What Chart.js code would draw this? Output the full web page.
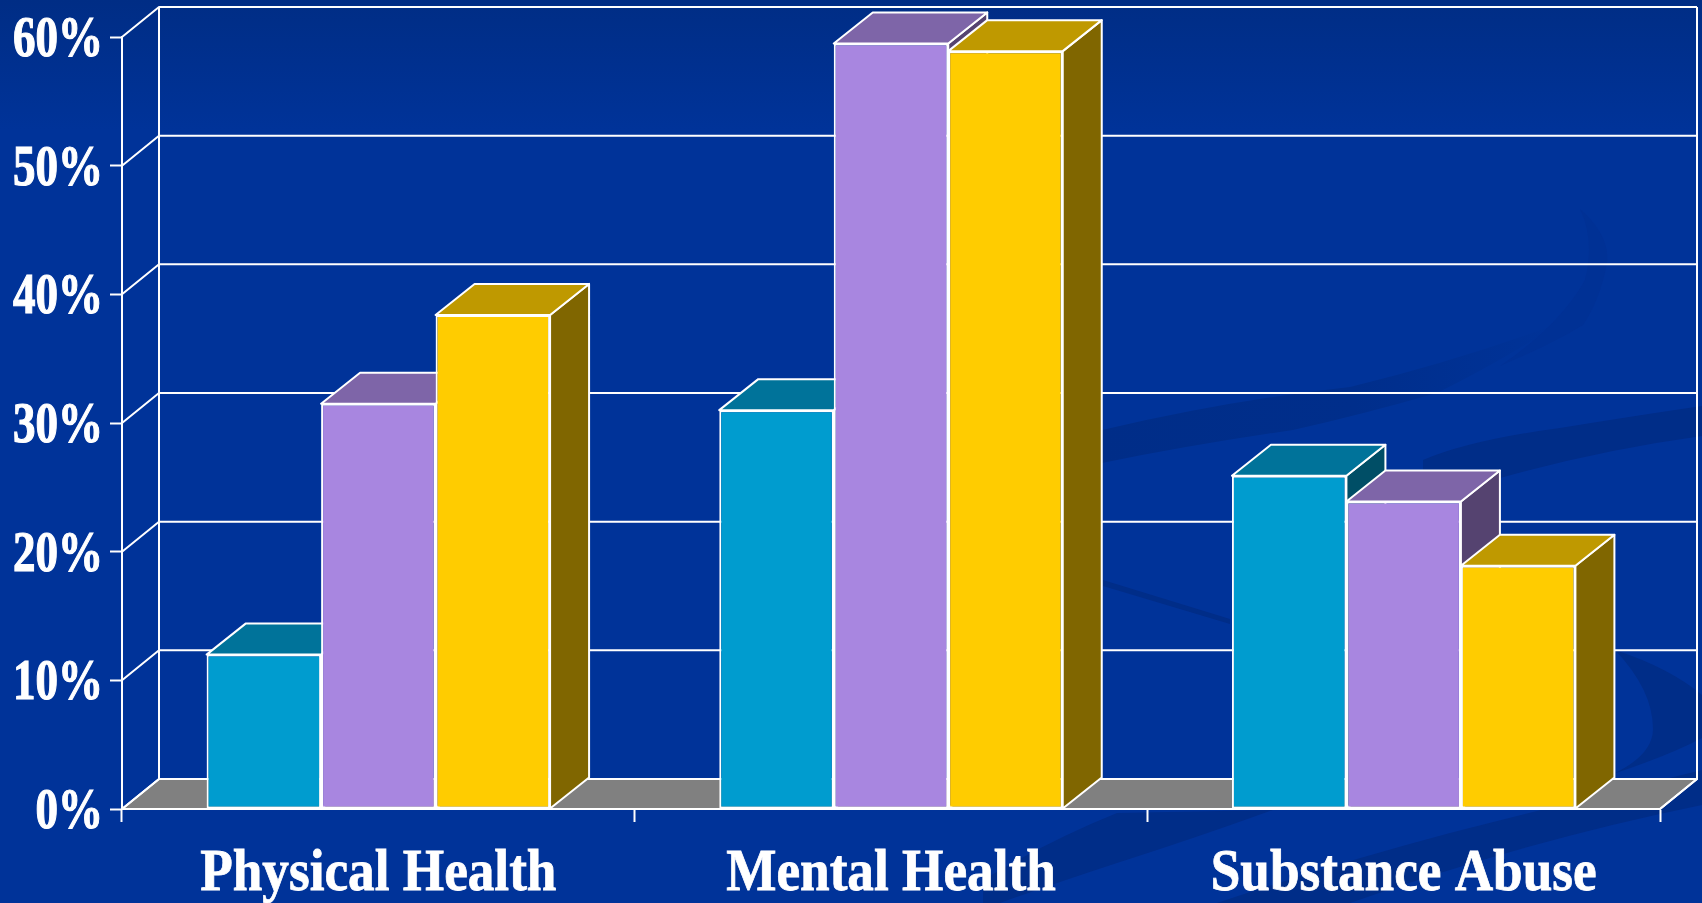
<!DOCTYPE html>
<html lang="en">
<head>
<meta charset="UTF-8">
<title>Physical Health, Mental Health, Substance Abuse</title>
<script src="https://cdn.jsdelivr.net/npm/chart.js@4"></script>
<style>
    html, body { margin: 0; padding: 0; width: 1702px; height: 903px; overflow: hidden; background: #003399; }
    #bg { position: absolute; left: 0; top: 0; }
    #chart { position: absolute; left: 0; top: 0; }
</style>
</head>
<body>
<!-- slide background swooshes -->
<svg id="bg" width="1702" height="903" viewBox="0 0 1702 903">
    <defs>
        <linearGradient id="topShade" x1="0" y1="0" x2="0" y2="1">
            <stop offset="0" stop-color="#002d85"/>
            <stop offset="1" stop-color="#003399"/>
        </linearGradient>
        <linearGradient id="fadeRight" gradientUnits="userSpaceOnUse" x1="1100" y1="0" x2="1560" y2="0">
            <stop offset="0" stop-color="#002d88"/>
            <stop offset="0.55" stop-color="#002e8b"/>
            <stop offset="1" stop-color="#003399"/>
        </linearGradient>
    </defs>
    <rect x="0" y="0" width="1702" height="130" fill="url(#topShade)"/>
    <path d="M1102 430 Q1230 400 1350 387 Q1460 360 1560 323 Q1500 362 1437 393 Q1360 415 1293 430 Q1190 445 1102 463 Z" fill="url(#fadeRight)"/>
    <g fill="#002d88">
        <path d="M1423 460 Q1470 440 1560 428 Q1640 415 1702 406 L1702 436 Q1600 450 1500 478 Q1460 485 1423 495 Z"/>
        <path d="M1615 650 Q1670 668 1702 695 L1702 738 Q1670 755 1613 774 Q1653 755 1653 729 Q1653 690 1615 650 Z"/>
        <path d="M983 880 Q1050 840 1117 813 L1273 810 Q1190 840 1117 863 Q1050 885 1000 903 L983 903 Z"/>
        <path d="M1217 903 Q1330 865 1450 833 Q1580 800 1702 770 L1702 805 Q1530 840 1350 903 Z"/>
        <path d="M1103 580 L1230 619 L1230 624 L1103 586 Z"/>
    </g>
    <path d="M1580 209 Q1610 235 1607 263 Q1600 300 1583 325 Q1550 345 1500 366 Q1560 325 1585 280 Q1595 240 1580 209 Z" fill="#003195"/>
</svg>
<canvas id="chart" width="1702" height="903"></canvas>
<script>
    const categories = ['Physical Health', 'Mental Health', 'Substance Abuse'];
    const blueValues = [12, 31, 25.9];
    const purpleValues = [31.5, 59.5, 23.9];
    const yellowValues = [38.4, 58.9, 18.9];
    const yTickLabels = ['0%', '10%', '20%', '30%', '40%', '50%', '60%'];

    // depth of the fake 3D walls and of the boxes
    const depthX = 37;
    const depthY = -30;
    const boxDepthX = 39;
    const boxDepthY = -31;

    const faces = [
        { front: '#009ccf', top: '#00739a', side: '#004e66' },
        { front: '#a886e0', top: '#7e65a8', side: '#554370' },
        { front: '#ffcc00', top: '#bf9900', side: '#806600' }
    ];

    function polygon(ctx, pts, fill) {
        ctx.beginPath();
        pts.forEach((p, i) => i ? ctx.lineTo(p[0], p[1]) : ctx.moveTo(p[0], p[1]));
        ctx.closePath();
        ctx.fillStyle = fill;
        ctx.fill();
        ctx.strokeStyle = '#ffffff';
        ctx.lineWidth = 2;
        ctx.lineJoin = 'round';
        ctx.stroke();
    }

    // back wall, side wall and grey floor
    const wallsPlugin = {
        id: 'walls',
        beforeDatasetsDraw(chart) {
            const ctx = chart.ctx;
            const { left, right, bottom } = chart.chartArea;
            const y = chart.scales.y;
            ctx.save();
            polygon(ctx, [[left, bottom], [left + depthX, bottom + depthY], [right + depthX, bottom + depthY], [right, bottom]], '#808080');
            ctx.strokeStyle = '#ffffff';
            ctx.lineWidth = 2;
            y.ticks.forEach(t => {
                const py = y.getPixelForValue(t.value);
                ctx.beginPath();
                ctx.moveTo(left, py);
                ctx.lineTo(left + depthX, py + depthY);
                ctx.lineTo(right + depthX, py + depthY);
                ctx.stroke();
            });
            const topY = y.getPixelForValue(y.max) + depthY;
            ctx.beginPath();
            ctx.moveTo(left + depthX, topY);
            ctx.lineTo(left + depthX, bottom + depthY);
            ctx.moveTo(right + depthX, topY);
            ctx.lineTo(right + depthX, bottom + depthY);
            ctx.lineTo(right, bottom);
            ctx.stroke();
            ctx.restore();
        }
    };

    // chart.js paints the first series last, the boxes need it the other way round,
    // so skip its pass and paint series left to right with their top and side faces
    const boxPlugin = {
        id: 'box',
        beforeDatasetDraw() {
            return false;
        },
        afterDatasetsDraw(chart) {
            const ctx = chart.ctx;
            chart.getSortedVisibleDatasetMetas().forEach(meta => {
                const colors = faces[meta.index];
                meta.data.forEach(bar => {
                    const { x, y, base, width } = bar.getProps(['x', 'y', 'base', 'width'], true);
                    const l = x - width / 2;
                    const r = x + width / 2;
                    ctx.save();
                    polygon(ctx, [[r, y], [r + boxDepthX, y + boxDepthY], [r + boxDepthX, base + boxDepthY], [r, base]], colors.side);
                    polygon(ctx, [[l, y], [l + boxDepthX, y + boxDepthY], [r + boxDepthX, y + boxDepthY], [r, y]], colors.top);
                    ctx.restore();
                    bar.draw(ctx);
                });
            });
        }
    };

    // narrowed serif axis labels, placed from the scales' own ticks
    const labelsPlugin = {
        id: 'labels',
        afterDraw(chart) {
            const ctx = chart.ctx;
            const xs = chart.scales.x;
            const ys = chart.scales.y;
            ctx.save();
            ctx.fillStyle = '#ffffff';
            ctx.strokeStyle = '#ffffff';
            ctx.textBaseline = 'alphabetic';

            ctx.font = 'bold 57px "Liberation Serif"';
            ctx.textAlign = 'right';
            ctx.lineWidth = 1.2;
            ys.ticks.forEach((t, i) => {
                ctx.save();
                ctx.translate(103, ys.getPixelForTick(i) + 19);
                ctx.scale(0.79, 1);
                ctx.fillText(t.label, 0, 0);
                ctx.strokeText(t.label, 0, 0);
                ctx.restore();
            });

            ctx.font = 'bold 60px "Liberation Serif"';
            ctx.textAlign = 'center';
            ctx.lineWidth = 0.8;
            xs.ticks.forEach((t, i) => {
                ctx.save();
                ctx.translate(xs.getPixelForTick(i), 890);
                ctx.scale(0.887, 1);
                ctx.fillText(t.label, 0, 0);
                ctx.strokeText(t.label, 0, 0);
                ctx.restore();
            });
            ctx.restore();
        }
    };

    function series(label, data, i) {
        return {
            label,
            data,
            backgroundColor: faces[i].front,
            borderColor: '#ffffff',
            borderWidth: 2,
            borderSkipped: false,
            categoryPercentage: 0.67,
            barPercentage: 1
        };
    }

    new Chart(document.getElementById('chart'), {
        type: 'bar',
        data: {
            labels: categories,
            datasets: [
                series('Series 1', blueValues, 0),
                series('Series 2', purpleValues, 1),
                series('Series 3', yellowValues, 2)
            ]
        },
        plugins: [wallsPlugin, boxPlugin, labelsPlugin],
        options: {
            responsive: false,
            animation: false,
            devicePixelRatio: 1,
            layout: { padding: { top: 37, right: 42, left: 0, bottom: 0 } },
            plugins: { legend: { display: false }, tooltip: { enabled: false } },
            scales: {
                x: {
                    afterFit: s => { s.height = 94; },
                    grid: { drawOnChartArea: false, tickLength: 13, tickColor: '#ffffff', tickWidth: 2 },
                    border: { color: '#ffffff', width: 2 },
                    ticks: { display: false }
                },
                y: {
                    min: 0,
                    max: 60,
                    afterFit: s => { s.width = 122; },
                    grid: { drawOnChartArea: false, tickLength: 12, tickColor: '#ffffff', tickWidth: 2 },
                    border: { color: '#ffffff', width: 2 },
                    ticks: {
                        display: false,
                        stepSize: 10,
                        callback: (v, i) => yTickLabels[i]
                    }
                }
            }
        }
    });
</script>
</body>
</html>
